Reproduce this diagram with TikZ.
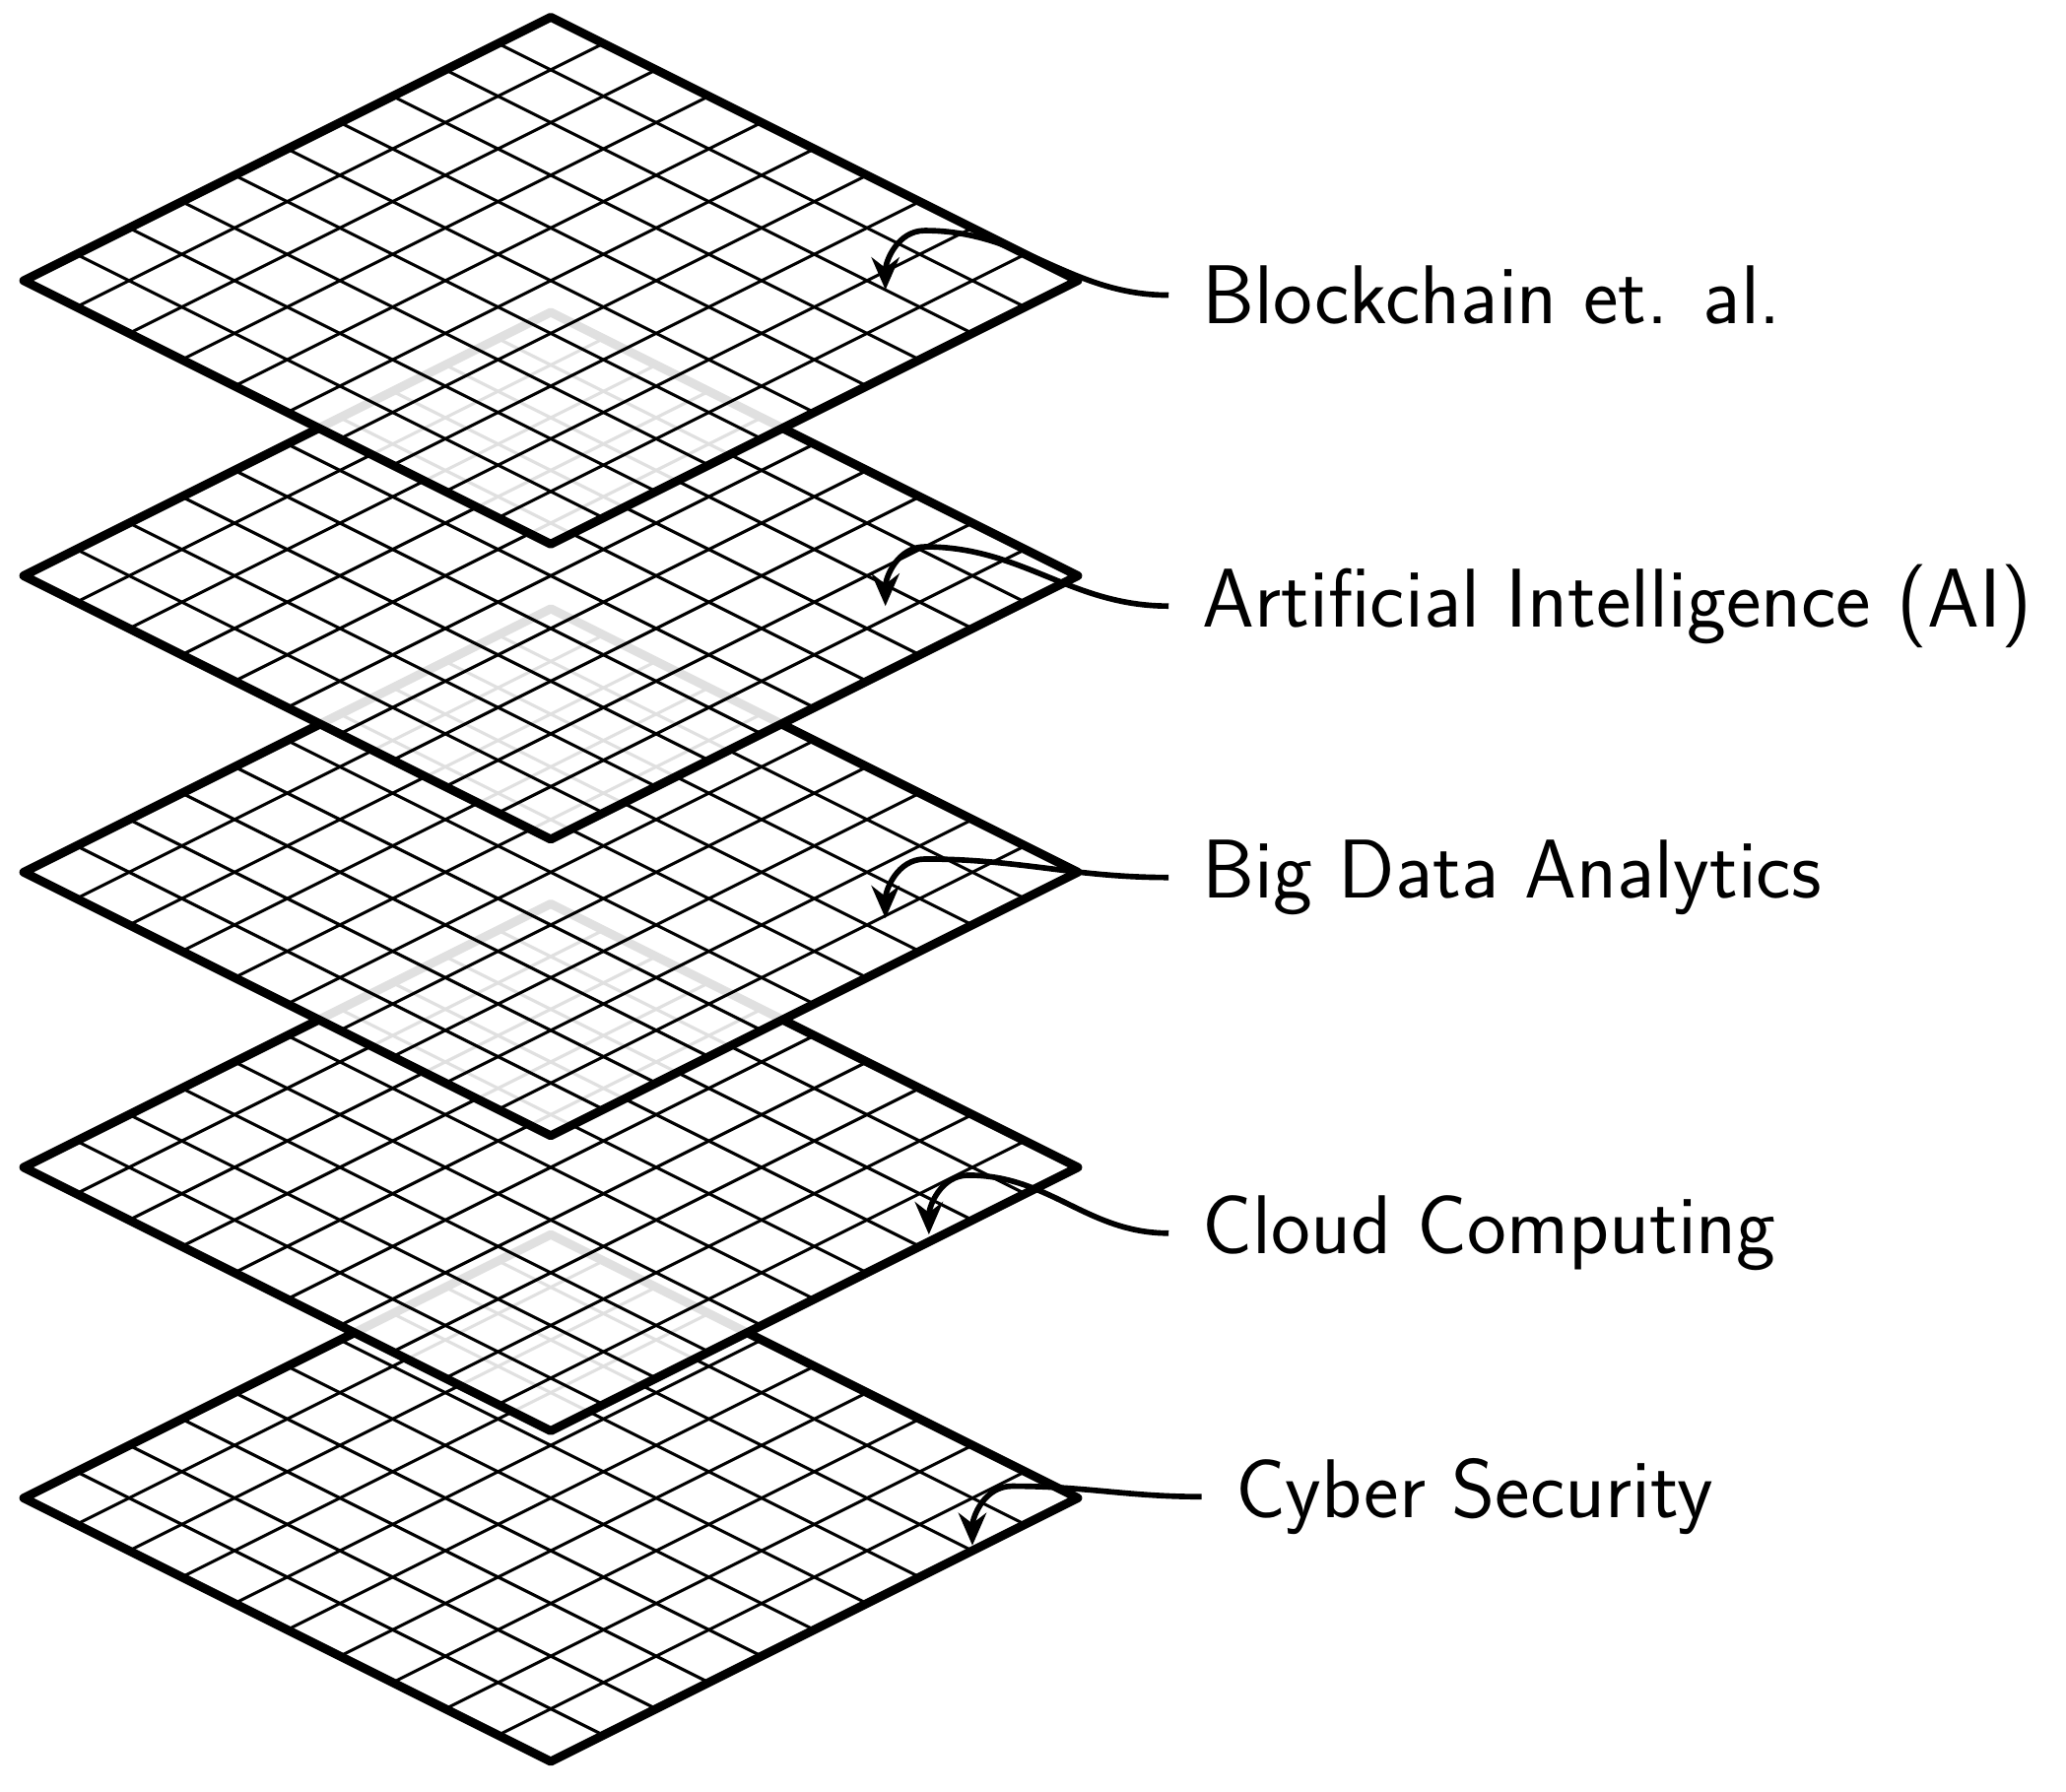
\documentclass[tikz,border=0pt]{standalone}
\usepackage{fontspec}
\setmainfont{Latin Modern Sans}
\usetikzlibrary{arrows.meta}
\begin{document}
\begin{tikzpicture}[x=0.01cm,y=-0.01cm,
  gridl/.style={line width=0.65pt},
  lab/.style={anchor=west,inner sep=0pt,font=\fontsize{18}{22}\selectfont},
  conn/.style={line width=1.2pt,-{Stealth[length=7pt,width=6pt]}}]
\useasboundingbox (0,0) rectangle (1568,1360);
\newcommand{\myplane}[1]{%
  \begin{scope}[shift={(418,#1)}]
  \fill[white,opacity=0.88] (-400,0)--(0,-200)--(400,0)--(0,200)--cycle;
  \foreach \i in {1,...,9}{
    \draw[gridl] ({-400+40*\i},{-20*\i}) -- ({40*\i},{200-20*\i});
    \draw[gridl] ({-400+40*\i},{20*\i}) -- ({40*\i},{-200+20*\i});
  }
  \draw[line width=1.9pt,line join=round] (-400,0)--(0,-200)--(400,0)--(0,200)--cycle;
  \end{scope}}
\myplane{1137}
\myplane{886}
\myplane{662}
\myplane{437}
\myplane{213}
\node[lab] (l1) at (912,224) {Blockchain et. al.};
\node[lab] (l2) at (912,460) {Artificial Intelligence (AI)};
\node[lab] (l3) at (912,666) {Big Data Analytics};
\node[lab] (l4) at (912,936) {Cloud Computing};
\node[lab] (l5) at (937,1136) {Cyber Security};
\coordinate (t1) at (672,220); \coordinate (t2) at (672,460);
\coordinate (t3) at (672,697); \coordinate (t4) at (705,937);
\coordinate (t5) at (738,1173);
\foreach \k in {1,...,5}{
  \draw[conn] ([xshift=-2.5mm]l\k.west) to[out=180,in=0] ([shift={(30,-45)}]t\k) to[out=180,in=90] (t\k);
}
\end{tikzpicture}
\end{document}
